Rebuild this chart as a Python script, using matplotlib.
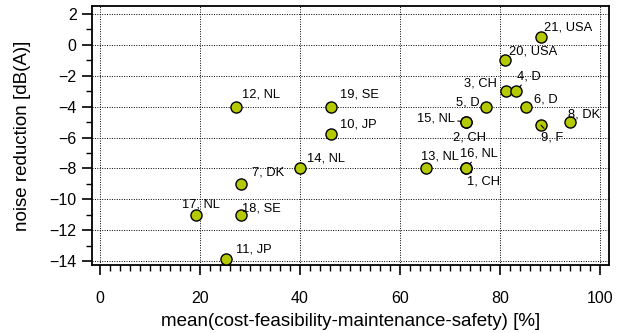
import matplotlib
matplotlib.use("Agg")
import matplotlib.pyplot as plt
from matplotlib.ticker import MultipleLocator

plt.rcParams['font.family'] = ['Liberation Sans', 'DejaVu Sans']

labels = ["21, USA", "20, USA", "3, CH", "4, D", "5, D", "6, D", "8, DK", "9, F",
          "15, NL", "2, CH", "16, NL", "1, CH", "13, NL", "12, NL", "19, SE", "10, JP",
          "14, NL", "7, DK", "17, NL", "18, SE", "11, JP"]
x_vals = [88.2, 81.0, 81.2, 83.2, 77.2, 85.2, 94.0, 88.2,
          73.2, 73.2, 73.2, 73.2, 65.2, 27.1, 46.1, 46.1,
          40.0, 28.1, 19.1, 28.1, 25.1]
y_vals = [0.5, -1.0, -3.0, -3.0, -4.0, -4.0, -5.0, -5.2,
          -5.0, -5.0, -8.0, -8.0, -8.0, -4.0, -4.0, -5.8,
          -8.0, -9.0, -11.0, -11.0, -13.9]

# label placement: (dx px, dy px, ha, leader line)
placement = {
    "21, USA": (3, 7, 'left', False),
    "20, USA": (4, 6, 'left', False),
    "3, CH": (-9, 5, 'right', False),
    "4, D": (1, 12, 'left', True),
    "5, D": (-6, 1, 'right', False),
    "6, D": (8, 4, 'left', False),
    "8, DK": (-2, 5, 'left', False),
    "9, F": (0, -15, 'left', True),
    "15, NL": (-11, 1, 'right', True),
    "2, CH": (-13, -18, 'left', True),
    "16, NL": (-6, 12, 'left', True),
    "1, CH": (1, -16, 'left', True),
    "13, NL": (-5, 9, 'left', False),
    "12, NL": (7, 9, 'left', False),
    "19, SE": (9, 9, 'left', False),
    "10, JP": (9, 7, 'left', False),
    "14, NL": (7, 7, 'left', False),
    "7, DK": (11, 8, 'left', False),
    "17, NL": (-13, 7, 'left', False),
    "18, SE": (2, 3, 'left', False),
    "11, JP": (10, 7, 'left', False),
}

fig = plt.figure(figsize=(6.19, 3.33), dpi=100)
ax = fig.add_axes([92/619, 1-265/333, (609-92)/619, (265-6)/333])

ax.set_xlim(-1.6, 101.8)
ax.set_ylim(-14.26, 2.52)
ax.xaxis.set_major_locator(MultipleLocator(20))
ax.xaxis.set_minor_locator(MultipleLocator(2))
ax.yaxis.set_major_locator(MultipleLocator(2))
ax.yaxis.set_minor_locator(MultipleLocator(1))
ax.grid(True, which='major', color='black', linestyle=(0, (1, 1.5)), linewidth=0.7)
ax.set_axisbelow(True)

ax.tick_params(which='major', direction='out', length=7, width=1.2, labelsize=11.5)
ax.tick_params(which='minor', direction='out', length=4, width=1.0)
ax.tick_params(axis='x', which='major', pad=12)
ax.tick_params(axis='y', which='major', pad=4)
for s in ax.spines.values():
    s.set_linewidth(1.3)

ax.plot(x_vals, y_vals, linestyle='none', marker='o', markersize=8,
        markerfacecolor='#b5c900', markeredgecolor='black', markeredgewidth=1.0, zorder=3)

for lab, xv, yv in zip(labels, x_vals, y_vals):
    dx, dy, ha, lead = placement[lab]
    kw = {}
    if lead:
        kw['arrowprops'] = dict(arrowstyle='-', color='black', lw=0.8, shrinkA=0, shrinkB=4)
    ax.annotate(lab, (xv, yv), xytext=(dx, dy), textcoords='offset pixels',
                ha=ha, va='baseline', fontsize=9.3, zorder=4, **kw)

ax.set_xlabel('mean(cost-feasibility-maintenance-safety) [%]', fontsize=13.5, labelpad=5)
ax.set_ylabel('noise reduction [dB(A)]', fontsize=13.5, labelpad=13)

fig.savefig('out.png', dpi=100)
